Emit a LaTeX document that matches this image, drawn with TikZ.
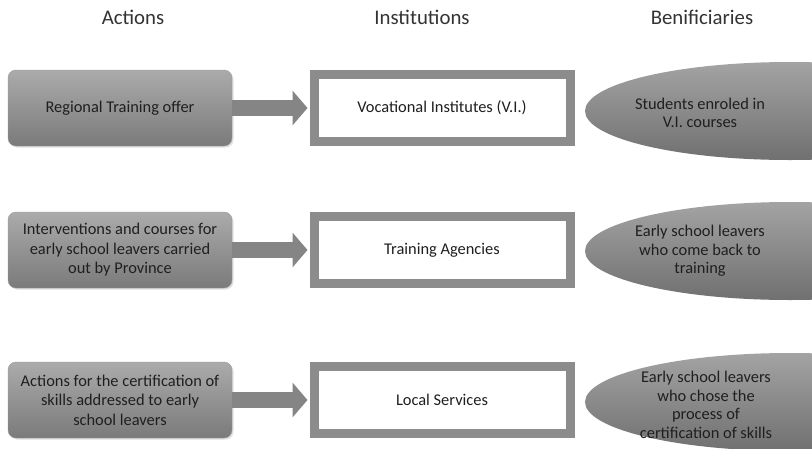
\documentclass[tikz,border=0pt]{standalone}
\usepackage{fontspec}
\setmainfont{Carlito}
\usepackage{tikz}
\usetikzlibrary{calc}
\usetikzlibrary{positioning}
\usetikzlibrary{arrows.meta}
\usetikzlibrary{shadows}

\begin{document}
\begin{tikzpicture}[x=1pt,y=-1pt,every node/.style = {align=center},
head/.style={font=\fontsize{20.8}{24}\selectfont, text=black!80},
action/.style={rounded corners=8pt, top color=black!33, bottom color=black!52, draw=black!40,
  minimum width=224pt, minimum height=76pt, inner sep=2pt, text=black!88,
  font=\fontsize{16.4}{19.5}\selectfont, drop shadow={opacity=0.25,shadow xshift=1.5pt,shadow yshift=-1.5pt}},
inst/.style={draw=black!45, line width=9pt, fill=white, minimum width=256pt, minimum height=67pt,
  text=black!88, font=\fontsize{16.4}{19.5}\selectfont, drop shadow={opacity=0.25,shadow xshift=1.5pt,shadow yshift=-1.5pt}},
benef/.style={text=black!88, font=\fontsize{16.4}{18.7}\selectfont},
blob/.style={top color=black!36, bottom color=black!56},
flow/.style={line width=16pt, draw=black!48, -{Triangle[length=15pt,width=34pt]}, shorten >=2pt}]
\useasboundingbox (0,0) rectangle (812,448);
\clip (0,0) rectangle (812,448);
\fill[white] (0,0) rectangle (812,448);

\node[head] (h1) at (133,17) {Actions};
\node[head] (h2) at (422,17) {Institutions};
\node[head] (h3) at (702,17) {Benificiaries};

\node[action] (a1) at (120,108) {Regional Training offer};
\node[action] (a2) at (120,250) {Interventions and courses for\\early school leavers carried\\out by Province};
\node[action] (a3) at (120,400) {Actions for the certification of\\skills addressed to early\\school leavers};

\node[inst] (i1) at (442,108) {Vocational Institutes (V.I.)};
\node[inst] (i2) at (442,250) {Training Agencies};
\node[inst] (i3) at (442,400) {Local Services};

\path[blob] (790,111) ellipse [x radius=205pt, y radius=49pt];
\path[blob] (790,251) ellipse [x radius=205pt, y radius=49pt];
\path[blob] (790,402) ellipse [x radius=205pt, y radius=49pt];

\node[benef] (b1) at (700,113) {Students enroled in\\V.I. courses};
\node[benef] (b2) at (700,251) {Early school leavers\\who come back to\\training};
\node[benef] (b3) at (706,405) {Early school leavers\\who chose the\\process of\\certification of skills};

\draw[flow] (a1.east) -- (i1.west);
\draw[flow] (a2.east) -- (i2.west);
\draw[flow] (a3.east) -- (i3.west);
\end{tikzpicture}
\end{document}
